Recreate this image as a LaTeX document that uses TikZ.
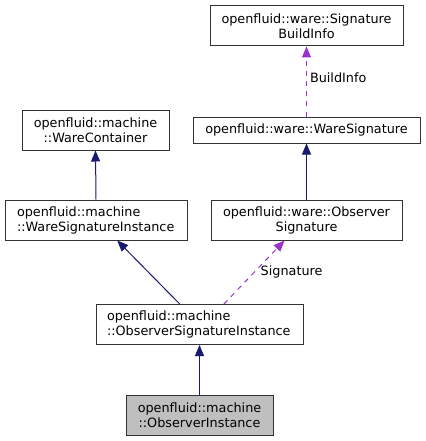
\documentclass[tikz,border=0pt]{standalone}
\usepackage{fontspec}
\setmainfont{DejaVu Sans}
\usepackage{tikz}
\usetikzlibrary{arrows.meta}
\definecolor{inhblue}{HTML}{191970}
\definecolor{usepurple}{HTML}{9A32CD}

\begin{document}
\begin{tikzpicture}[x=1pt,y=-1pt,
    cls/.style={draw=black!80, line width=1pt, rectangle, inner sep=0pt, align=center,
                minimum height=40pt, font=\fontsize{12.8}{15}\selectfont},
    clsleft/.style={cls, align=left, inner xsep=12pt},
    inherit/.style={inhblue, line width=1pt, -{Triangle[length=11pt,width=9pt]}},
    member/.style={usepurple, line width=1pt, dash pattern=on 5pt off 5pt,
                   -{Triangle[length=11pt,width=9pt]}},
    lbl/.style={text=black, font=\fontsize{12.8}{15}\selectfont, inner sep=3pt}]
    \useasboundingbox (0,0) rectangle (425,441);
    % Classes
    \node[cls, minimum width=193pt] (buildinfo) at (306.5,26) {openfluid::ware::Signature\\BuildInfo};
    \node[cls, minimum width=227pt, minimum height=26pt] (waresig) at (306.5,130) {openfluid::ware::WareSignature};
    \node[cls, minimum width=147pt] (container) at (95.5,130) {openfluid::machine\\::WareContainer};
    \node[clsleft, text width=158pt] (waresiginst) at (96,220) {openfluid::machine\\::WareSignatureInstance};
    \node[cls, minimum width=191pt] (obssig) at (306.5,220) {openfluid::ware::Observer\\Signature};
    \node[clsleft, inner xsep=11pt, text width=185pt] (obssiginst) at (199.5,324.5) {openfluid::machine\\::ObserverSignatureInstance};
    \node[cls, fill=black!25, minimum width=147pt] (obsinst) at (199.5,415) {openfluid::machine\\::ObserverInstance};
    % Inheritance
    \draw[inherit] (waresiginst.north) -- (container.south);
    \draw[inherit] (obssig.north) -- (waresig.south);
    \draw[inherit] (obssiginst.134) -- (waresiginst.-44);
    \draw[inherit] (obsinst.north) -- (obssiginst.south);
    % Members
    \draw[member] (waresig.north) -- node[lbl, pos=0.56, right] {BuildInfo} (buildinfo.south);
    \draw[member] (obssiginst.40) -- node[lbl, midway, right, xshift=3pt] {Signature} (obssig.-137);
\end{tikzpicture}
\end{document}
